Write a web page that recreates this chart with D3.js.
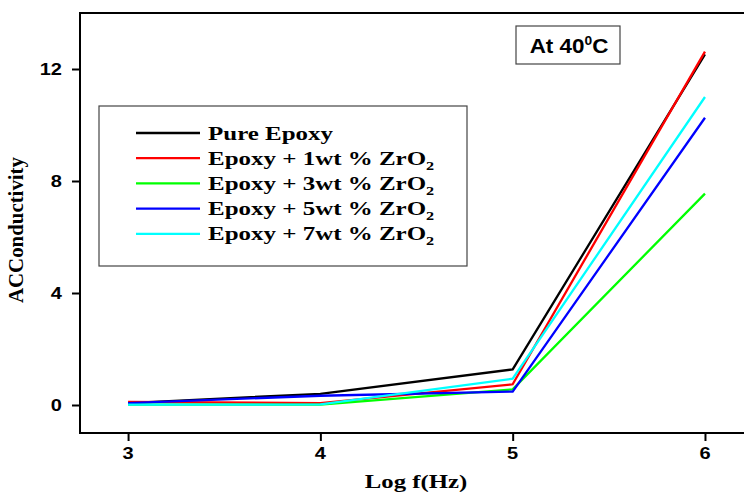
<!DOCTYPE html>
<html><head><meta charset="utf-8">
<script src="https://cdn.jsdelivr.net/npm/d3@7"></script>
<style>body{margin:0;background:#fff}svg{display:block}</style>
</head><body>
<svg id="c" width="744" height="493"></svg>
<script>
const logF = [3, 4, 5, 6];
const seriesNames = ["Pure Epoxy", "Epoxy + 1wt % ZrO", "Epoxy + 3wt % ZrO", "Epoxy + 5wt % ZrO", "Epoxy + 7wt % ZrO"];
const seriesSub = ["", "2", "2", "2", "2"];
const seriesColors = ["#000000", "#ff0000", "#00ff00", "#0000ff", "#00ffff"];
const pureEpoxy = [0.07, 0.40, 1.27, 12.52];
const zr1 = [0.11, 0.07, 0.74, 12.62];
const zr3 = [0.01, 0.01, 0.56, 7.55];
const zr5 = [0.07, 0.33, 0.48, 10.26];
const zr7 = [0.01, 0.02, 0.94, 11.0];
const xTicks = [3, 4, 5, 6];
const yTicks = [0, 4, 8, 12];
const allSeries = [pureEpoxy, zr1, zr3, zr5, zr7];

const svg = d3.select("#c");
const L = 80, T = 13, B = 433;
const x = d3.scaleLinear().domain([2.75, 6.25]).range([L, L + 3.5 * 192.3]);
const y = d3.scaleLinear().domain([-1, 14]).range([B, B - 15 * 28]);
const SX = 1.27;
const sans = "Arial, 'Liberation Sans', sans-serif";
const serif = "'Times New Roman', 'Liberation Serif', serif";

function txt(g, xx, yy, s, opts) {
  const t = g.append("text")
    .attr("transform", `translate(${xx},${yy}) scale(${opts.sx || SX},1)` + (opts.rot ? ` rotate(${opts.rot})` : ""))
    .attr("font-family", opts.family).attr("font-weight", "bold")
    .attr("font-size", opts.size).attr("text-anchor", opts.anchor || "start")
    .attr("fill", "#000");
  if (opts.dy) t.attr("dy", opts.dy);
  t.text(s);
  return t;
}

// lines
const line = d3.line().x((d, i) => x(logF[i])).y(d => y(d));
allSeries.forEach((s, k) => {
  svg.append("path").datum(s).attr("d", line)
    .attr("fill", "none").attr("stroke", seriesColors[k])
    .attr("stroke-width", 2.3).attr("stroke-linejoin", "miter");
});

// frame
svg.append("rect").attr("x", L).attr("y", T).attr("width", x.range()[1] - L).attr("height", B - T)
  .attr("fill", "none").attr("stroke", "#000").attr("stroke-width", 2);

// axes
const xa = svg.append("g").attr("transform", `translate(0,${B})`)
  .call(d3.axisBottom(x).tickValues(xTicks).tickSize(8).tickFormat(""));
const ya = svg.append("g").attr("transform", `translate(${L},0)`)
  .call(d3.axisLeft(y).tickValues(yTicks).tickSize(8).tickFormat(""));
[xa, ya].forEach(a => {
  a.select(".domain").remove();
  a.selectAll("line").attr("stroke", "#000").attr("stroke-width", 2);
});
xTicks.forEach(v => txt(svg, x(v), 459, String(v), {family: sans, size: 16, anchor: "middle", sx: 1.25}));
yTicks.forEach(v => txt(svg, 62, y(v), String(v), {family: sans, size: 16, anchor: "end", dy: "0.36em", sx: 1.25}));

// axis titles
txt(svg, 416, 488, "Log f(Hz)", {family: serif, size: 19.5, anchor: "middle"});
txt(svg, 23, 230, "ACConductivity", {family: serif, size: 21, anchor: "middle", rot: -90, sx: 1.0})
  .attr("textLength", 146).attr("lengthAdjust", "spacingAndGlyphs");

// legend
svg.append("rect").attr("x", 99).attr("y", 106).attr("width", 368).attr("height", 160)
  .attr("fill", "#fff").attr("stroke", "#444").attr("stroke-width", 1.2);
seriesNames.forEach((n, k) => {
  const ly = 133 + k * 25.2;
  svg.append("line").attr("x1", 136).attr("x2", 200).attr("y1", ly).attr("y2", ly)
    .attr("stroke", seriesColors[k]).attr("stroke-width", 2.3);
  const t = txt(svg, 208, ly + 6.5, n, {family: serif, size: 18.5, sx: 1.35});
  if (seriesSub[k]) t.append("tspan").attr("font-size", 12).attr("dy", 5).text(seriesSub[k]);
});

// annotation
svg.append("rect").attr("x", 516).attr("y", 26).attr("width", 104).attr("height", 38)
  .attr("fill", "#fff").attr("stroke", "#444").attr("stroke-width", 1.2);
const at = txt(svg, 569, 53, "At 40", {family: sans, size: 19.5, anchor: "middle", sx: 1.15});
at.append("tspan").attr("font-size", 12).attr("dy", -8).text("0");
at.append("tspan").attr("dy", 8).text("C");
</script>
</body></html>
